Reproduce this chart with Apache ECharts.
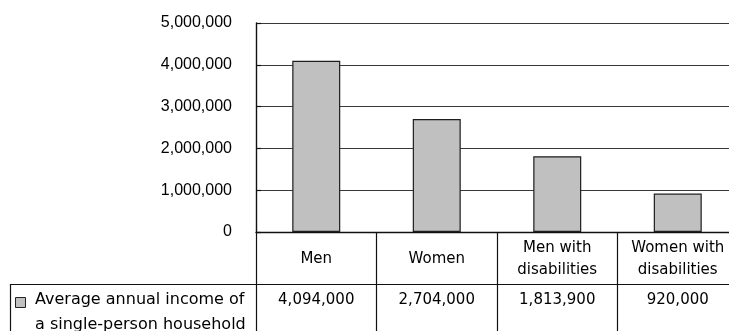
<!DOCTYPE html>
<html>
<head>
<meta charset="utf-8">
<style>
  html, body { margin: 0; padding: 0; background: #fff; }
  #chart { width: 729px; height: 331px; }
</style>
<script src="https://cdn.jsdelivr.net/npm/echarts@6/dist/echarts.min.js"></script>
</head>
<body>
<div id="chart"></div>
<script>
// Average annual income of a single-person household (yen)
const categories = ['Men', 'Women', 'Men with\ndisabilities', 'Women with\ndisabilities'];
const incomes = [4094000, 2704000, 1813900, 920000];
const seriesName = ['Average annual income of', 'a single-person household'];

const fmt = v => Number(v).toLocaleString('en-US');
const tableFont = 'DejaVu Sans';
const lineColor = '#111';

const chart = echarts.init(document.getElementById('chart'), null, { renderer: 'canvas' });

chart.setOption({
  animation: false,
  backgroundColor: '#ffffff',
  // plot area runs a little past the right edge of the canvas
  grid: { left: 256, width: 482, top: 23, height: 209, containLabel: false, outerBoundsMode: 'none' },
  xAxis: [
    {
      // header row of the data table
      type: 'category',
      data: categories,
      position: 'bottom',
      axisLine: { show: true, lineStyle: { color: lineColor, width: 1.4 } },
      axisTick: { show: true, inside: false, length: 100, lineStyle: { color: lineColor, width: 1.2 } },
      axisLabel: {
        interval: 0, margin: 27, verticalAlign: 'middle', align: 'center',
        fontFamily: tableFont, fontSize: 15, lineHeight: 22, color: '#000'
      },
      splitLine: { show: false }
    },
    {
      // value row of the data table
      type: 'category',
      data: incomes.map(fmt),
      position: 'bottom',
      gridIndex: 0,
      axisLine: { show: false },
      axisTick: { show: false },
      axisLabel: {
        interval: 0, margin: 68, verticalAlign: 'middle', align: 'center',
        fontFamily: tableFont, fontSize: 15, color: '#000'
      },
      splitLine: { show: false }
    }
  ],
  yAxis: {
    type: 'value',
    min: 0, max: 5000000, interval: 1000000,
    axisLine: { show: true, lineStyle: { color: lineColor, width: 1.4 } },
    axisTick: { show: true, inside: true, length: 5, lineStyle: { color: lineColor, width: 1.2 } },
    axisLabel: {
      margin: 24, fontFamily: 'Liberation Sans', fontSize: 16, color: '#000',
      formatter: v => fmt(v)
    },
    splitLine: { show: true, lineStyle: { color: '#383838', width: 1.2 } }
  },
  series: [{
    name: seriesName.join(' '),
    type: 'bar',
    xAxisIndex: 0,
    data: incomes,
    barWidth: 48,
    itemStyle: { color: '#c0c0c0', borderColor: '#1e1e1e', borderWidth: 1.2 }
  }],
  graphic: [
    // table rule between header and value rows
    { type: 'line', silent: true, shape: { x1: 10, y1: 284.5, x2: 729, y2: 284.5 },
      style: { stroke: lineColor, lineWidth: 1.2 } },
    // left border of the legend cell
    { type: 'line', silent: true, shape: { x1: 10.5, y1: 284, x2: 10.5, y2: 331 },
      style: { stroke: lineColor, lineWidth: 1.2 } },
    // legend key
    { type: 'rect', silent: true, shape: { x: 15.5, y: 297.5, width: 10, height: 10 },
      style: { fill: '#c0c0c0', stroke: '#222', lineWidth: 1 } },
    { type: 'text', silent: true, left: 35, top: 292,
      style: { text: seriesName[0], font: '16px "DejaVu Sans"', fill: '#000' } },
    { type: 'text', silent: true, left: 35, top: 317,
      style: { text: seriesName[1], font: '16px "DejaVu Sans"', fill: '#000' } }
  ]
});
</script>
</body>
</html>
